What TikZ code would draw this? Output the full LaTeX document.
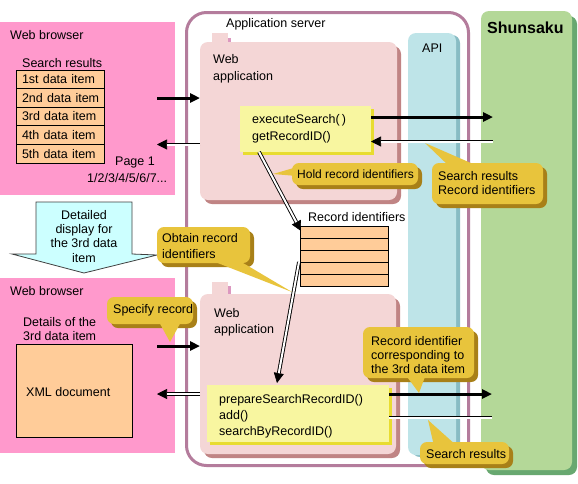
\documentclass[tikz,border=0pt]{standalone}
\usepackage{fontspec}
\setmainfont{Liberation Sans}
\usetikzlibrary{arrows.meta,shadows}
\definecolor{browserpink}{HTML}{FF99CC}
\definecolor{cellorange}{HTML}{FFCC99}
\definecolor{serverline}{HTML}{B47C9C}
\definecolor{webappfill}{HTML}{F4D6D6}
\definecolor{webappshadow}{HTML}{C08484}
\definecolor{tabpink}{HTML}{DC98C0}
\definecolor{yellowfill}{HTML}{F8F6A0}
\definecolor{yellowshadow}{HTML}{E8DC30}
\definecolor{apifill}{HTML}{BEE4E8}
\definecolor{apishadow}{HTML}{88BCC4}
\definecolor{shunfill}{HTML}{B4D898}
\definecolor{shunshadow}{HTML}{68A870}
\definecolor{callfill}{HTML}{E8C43C}
\definecolor{callshadow}{HTML}{A88018}
\definecolor{arrowcyan}{HTML}{CCFFFF}
\begin{document}
\begin{tikzpicture}[x=1pt,y=-1pt,
  txt/.style={font=\fontsize{12.5}{14}\selectfont, inner sep=0pt, anchor=base west, align=left},
  txtw/.style={font=\fontsize{12.5}{16.5}\selectfont, inner sep=0pt, anchor=base west, align=left},
  box/.style={anchor=north west, inner sep=0pt, outer sep=0pt},
  cell/.style={box, draw=black, line width=0.8pt, fill=cellorange, minimum width=88pt, minimum height=18.6pt, inner xsep=1pt, text width=86pt, align=left, font=\fontsize{12.5}{14}\selectfont},
  thickarrow/.style={line width=3pt, -{Triangle[length=10pt,width=9pt]}},
  tipline/.style={line width=0.6pt, -{Triangle[length=10pt,width=10pt,fill=black]}},
  dblline/.style={double distance=2pt, line width=0.9pt},
  bubble/.style={box, fill=callfill, rounded corners=7pt, drop shadow={shadow xshift=4pt, shadow yshift=-4pt, fill=callshadow, opacity=1}},
  pointer/.style={fill=callfill},
]
\useasboundingbox (0,0) rectangle (578,483);
\fill[white] (0,0) rectangle (578,483);

% application server
\node[box, draw=serverline, line width=3pt, rounded corners=20pt, minimum width=282pt, minimum height=453pt] (appserver) at (186.5,12.5) {};
\node[txt] (appservertxt) at (226,27) {Application server};

% API
\node[box, fill=apifill, rounded corners=8pt, minimum width=48pt, minimum height=422pt, drop shadow={shadow xshift=4pt, shadow yshift=-2pt, fill=apishadow, opacity=1}] (api) at (408,33) {};
\node[txt] (apitxt) at (422,52) {API};

% Shunsaku
\node[box, fill=shunfill, rounded corners=8pt, minimum width=91pt, minimum height=459pt, drop shadow={shadow xshift=5pt, shadow yshift=-5pt, fill=shunshadow, opacity=1}] (shun) at (481,11) {};
\node[txt, font=\fontsize{16}{18}\selectfont\bfseries] (shuntxt) at (487,33) {Shunsaku};

% web application top
\fill[tabpink] (215,38) rectangle (231,42);
\fill[webappfill] (212,33) rectangle (228,42);
\node[box, fill=webappfill, rounded corners=8pt, minimum width=197pt, minimum height=158pt, drop shadow={shadow xshift=4pt, shadow yshift=-4pt, fill=webappshadow, opacity=1}] (wapp1) at (200,42) {};
\node[txtw] (wapp1txt) at (213,80) {Web\\application};

% web application bottom
\fill[tabpink] (215,286) rectangle (231,294);
\fill[webappfill] (212,282) rectangle (228,294);
\node[box, fill=webappfill, rounded corners=8pt, minimum width=196pt, minimum height=160pt, drop shadow={shadow xshift=4pt, shadow yshift=-4pt, fill=webappshadow, opacity=1}] (wapp2) at (200,294) {};
\node[txtw, font=\fontsize{12.5}{16}\selectfont] (wapp2txt) at (214,333) {Web\\application};

% yellow boxes
\node[box, fill=yellowfill, minimum width=131pt, minimum height=46pt, drop shadow={shadow xshift=3pt, shadow yshift=-3pt, fill=yellowshadow, opacity=1}] (y1) at (240,106) {};
\node[txtw, font=\fontsize{12.5}{17}\selectfont] (y1txt) at (252,140) {executeSearch(\,)\\getRecordID()};
\node[box, fill=yellowfill, minimum width=182pt, minimum height=57pt, drop shadow={shadow xshift=3pt, shadow yshift=-3pt, fill=yellowshadow, opacity=1}] (y2) at (207,385) {};
\node[txtw, font=\fontsize{12.5}{16}\selectfont] (y2txt) at (219,435) {prepareSearchRecordID()\\add()\\searchByRecordID()};

% browser top
\node[box, fill=browserpink, minimum width=175pt, minimum height=173pt] (wb1) at (0,22) {};
\node[txt] (wb1txt) at (10,39) {Web browser};
\node[txt] (srtxt) at (22,67) {Search results};
\node[cell] (r1) at (16,70) {\hspace*{5pt}1st data item};
\node[cell] (r2) at (16,88.6) {\hspace*{5pt}2nd data item};
\node[cell] (r3) at (16,107.2) {\hspace*{5pt}3rd data item};
\node[cell] (r4) at (16,125.8) {\hspace*{5pt}4th data item};
\node[cell] (r5) at (16,144.4) {\hspace*{5pt}5th data item};
\node[txt] (page1) at (115,165) {Page 1};
\node[txt] (pages) at (87,182) {1/2/3/4/5/6/7...};

% browser bottom
\node[box, fill=browserpink, minimum width=175pt, minimum height=175pt] (wb2) at (0,278) {};
\node[txt] (wb2txt) at (10,295) {Web browser};
\node[txt] (dettxt) at (23,340) {Details of the\\3rd data item};
\node[box, draw=black, line width=0.8pt, fill=cellorange, minimum width=116pt, minimum height=93pt] (xml) at (16,344) {};
\node[txt] (xmltxt) at (26,396) {XML document};

% big down arrow
\filldraw[fill=arrowcyan, draw=black!75, line width=0.8pt]
  (36,202) -- (132,202) -- (132,254) -- (157,255) -- (84,273) -- (12,254) -- (36,254) -- cycle;
\node[txt, anchor=base, align=center, font=\fontsize{12.5}{14.3}\selectfont] (ddtxt) at (84,262) {Detailed\\display for\\the 3rd data\\item};

% record identifier table
\node[txt] (ritxt) at (308,221) {Record identifiers};
\node[box, draw=black, line width=0.8pt, fill=cellorange, minimum width=88pt, minimum height=60pt] (rtab) at (300,226) {};
\foreach \yy in {238,250,262,274} \draw[line width=0.8pt] (300,\yy) -- (388,\yy);

% connector end points
\coordinate (a1s) at (157,98);   \coordinate (a1e) at (200,98);
\coordinate (a2s) at (200,144.5); \coordinate (a2e) at (157,144.5);
\coordinate (a3s) at (371,117);  \coordinate (a3e) at (493,117);
\coordinate (a4s) at (493,141.5); \coordinate (a4e) at (371,141.5);
\coordinate (d1s) at (259,152);  \coordinate (d1e) at (301,231);
\coordinate (d2s) at (299,262);  \coordinate (d2e) at (277,383);
\coordinate (b1s) at (157,346);  \coordinate (b1e) at (200,346);
\coordinate (b2s) at (200,394);  \coordinate (b2e) at (157,394);
\coordinate (b3s) at (389,394);  \coordinate (b3e) at (492,394);
\coordinate (b4s) at (389,417.5); \coordinate (b4e) at (492,417.5);

\draw[thickarrow] (a1s) -- (a1e);
\draw[thickarrow] (a3s) -- (a3e);
\draw[thickarrow] (b1s) -- (b1e);
\draw[thickarrow] (b3s) -- (b3e);
\foreach \s/\e in {a2s/a2e, a4s/a4e, d1s/d1e, d2s/d2e, b2s/b2e} {
  \draw[tipline, shorten <=12pt] (\s) -- (\e);
  \draw[dblline, shorten >=10pt] (\s) -- (\e);
}
\draw[dblline] (b4s) -- (b4e);

% callouts
\node[bubble, minimum width=126pt, minimum height=22pt] (holdc) at (292,163) {};
\fill[pointer] (297,167) -- (273,174) -- (297,176) -- cycle;
\node[txt, font=\fontsize{12}{14}\selectfont] (holdtxt) at (297,178) {Hold record identifiers};

\node[bubble, minimum width=111pt, minimum height=41pt] (srric) at (432,163) {};
\fill[pointer] (450,167) -- (425,143) -- (480,167) -- cycle;
\node[txt] (srritxt) at (438,194) {Search results\\Record identifiers};

\node[bubble, minimum width=93pt, minimum height=36pt] (obc) at (157,227) {};
\fill[pointer] (210,260) -- (292,292) -- (238,260) -- cycle;
\node[txt, font=\fontsize{12.5}{16}\selectfont] (obtxt) at (162,258) {Obtain record\\identifiers};

\node[bubble, minimum width=86pt, minimum height=27pt] (specc) at (107,297) {};
\fill[pointer] (158,320) -- (170,342) -- (182,320) -- cycle;
\node[txt] (spectxt) at (113,313) {Specify record};

\node[bubble, minimum width=111pt, minimum height=51pt] (ridc) at (363,327) {};
\fill[pointer] (405,374) -- (419,393) -- (426,374) -- cycle;
\node[txt] (ridtxt) at (371,373) {Record identifier\\corresponding to\\the 3rd data item};

\node[bubble, minimum width=89pt, minimum height=22pt] (srbc) at (420,442) {};
\fill[pointer] (434,446) -- (428,420) -- (457,446) -- cycle;
\node[txt] (srbtxt) at (426,458) {Search results};
\end{tikzpicture}
\end{document}
